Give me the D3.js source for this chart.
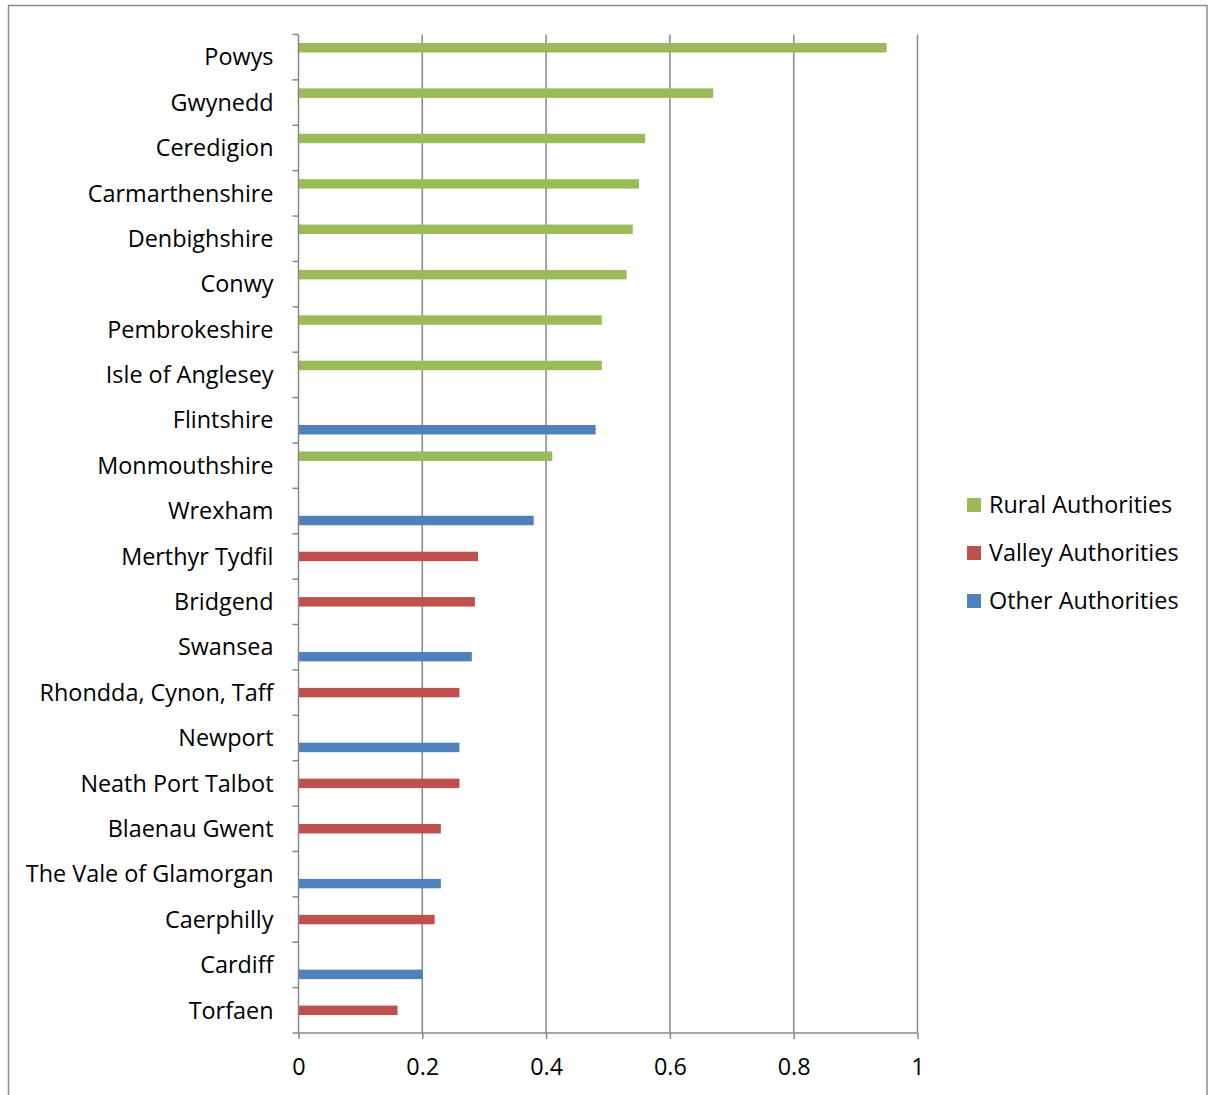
<!DOCTYPE html>
<html lang="en">
<head>
<meta charset="UTF-8">
<script src="https://d3js.org/d3.v7.min.js"></script>
<title>Authorities</title>
<style>
  body { margin: 0; background: #fff; }
  text { font-family: "Open Sans", "Noto Sans", sans-serif; fill: #000; }
</style>
</head>
<body>
<script>
// categories top to bottom
var authorities = ["Powys", "Gwynedd", "Ceredigion", "Carmarthenshire", "Denbighshire",
  "Conwy", "Pembrokeshire", "Isle of Anglesey", "Flintshire", "Monmouthshire", "Wrexham",
  "Merthyr Tydfil", "Bridgend", "Swansea", "Rhondda, Cynon, Taff", "Newport",
  "Neath Port Talbot", "Blaenau Gwent", "The Vale of Glamorgan", "Caerphilly", "Cardiff", "Torfaen"];

// one value per authority, null where the authority is not in that group
var rural  = [0.95, 0.67, 0.56, 0.55, 0.54, 0.53, 0.49, 0.49, null, 0.41, null,
  null, null, null, null, null, null, null, null, null, null, null];
var valley = [null, null, null, null, null, null, null, null, null, null, null,
  0.29, 0.285, null, 0.26, null, 0.26, 0.23, null, 0.22, null, 0.16];
var other  = [null, null, null, null, null, null, null, null, 0.48, null, 0.38,
  null, null, 0.28, null, 0.26, null, null, 0.23, null, 0.20, null];

var seriesNames = ["Rural Authorities", "Valley Authorities", "Other Authorities"];
var seriesColors = ["#9BBB59", "#C0504D", "#4F81BD"];
var xTicks = [0, 0.2, 0.4, 0.6, 0.8, 1];

var W = 1208, H = 1095;
var margin = { top: 34.5, left: 298.5, right: 290, bottom: 62 };
var plotW = 917.5 - margin.left, plotH = 1033 - margin.top;
var fontSize = 23.4;

var svg = d3.select("body").append("svg")
  .attr("width", W).attr("height", H);

// outer chart border
svg.append("rect")
  .attr("x", 8.5).attr("y", 5.5).attr("width", 1198.5).attr("height", 1100)
  .attr("fill", "none").attr("stroke", "#8c8c8c").attr("stroke-width", 1.5);

var g = svg.append("g").attr("transform", "translate(" + margin.left + "," + margin.top + ")");

var x = d3.scaleLinear().domain([0, 1]).range([0, plotW]);
var y = d3.scaleBand().domain(authorities).range([0, plotH]).paddingInner(0).paddingOuter(0);
var ySub = d3.scaleBand().domain(seriesNames).range([0, y.bandwidth()]).paddingInner(0).paddingOuter(0.9);

// vertical gridlines
g.selectAll(".grid").data(xTicks.slice(1)).enter().append("line")
  .attr("x1", function (d) { return x(d); }).attr("x2", function (d) { return x(d); })
  .attr("y1", 0).attr("y2", plotH)
  .attr("stroke", "#878787").attr("stroke-width", 1.5);

// bars
var data = [];
authorities.forEach(function (a, i) {
  [rural, valley, other].forEach(function (arr, s) {
    if (arr[i] != null) data.push({ name: a, series: seriesNames[s], color: seriesColors[s], value: arr[i] });
  });
});

g.selectAll(".bar").data(data).enter().append("rect")
  .attr("x", 0)
  .attr("y", function (d) { return y(d.name) + ySub(d.series); })
  .attr("width", function (d) { return x(d.value); })
  .attr("height", ySub.bandwidth())
  .attr("fill", function (d) { return d.color; });

// y axis (category)
var yAxis = g.append("g").call(
  d3.axisLeft(y).tickSize(0).tickPadding(25));
yAxis.select(".domain").remove();
yAxis.selectAll("text").attr("font-size", fontSize).attr("dy", "0.35em");

// band boundary ticks on the y axis
g.selectAll(".ytick").data(d3.range(authorities.length + 1)).enter().append("line")
  .attr("x1", -6).attr("x2", 0)
  .attr("y1", function (i) { return i * y.step(); }).attr("y2", function (i) { return i * y.step(); })
  .attr("stroke", "#878787").attr("stroke-width", 1.5);
g.append("line").attr("x1", 0).attr("x2", 0).attr("y1", 0).attr("y2", plotH)
  .attr("stroke", "#878787").attr("stroke-width", 1.5);

// x axis
var xAxis = g.append("g").attr("transform", "translate(0," + plotH + ")")
  .call(d3.axisBottom(x).tickValues(xTicks).tickFormat(d3.format("")).tickSize(6).tickPadding(19));
xAxis.select(".domain").attr("stroke", "#878787").attr("stroke-width", 1.5).attr("d", "M0,0H" + plotW);
xAxis.selectAll("line").attr("stroke", "#878787").attr("stroke-width", 1.5);
xAxis.selectAll("text").attr("font-size", fontSize);

// legend
var legend = svg.append("g").attr("transform", "translate(967,505)");
var items = legend.selectAll(".item").data(seriesNames).enter().append("g")
  .attr("transform", function (d, i) { return "translate(0," + i * 48 + ")"; });
items.append("rect").attr("x", 0).attr("y", -7).attr("width", 14).attr("height", 14)
  .attr("fill", function (d, i) { return seriesColors[i]; });
items.append("text").attr("x", 22).attr("dy", "0.35em").attr("font-size", fontSize)
  .text(function (d) { return d; });
</script>
</body>
</html>
